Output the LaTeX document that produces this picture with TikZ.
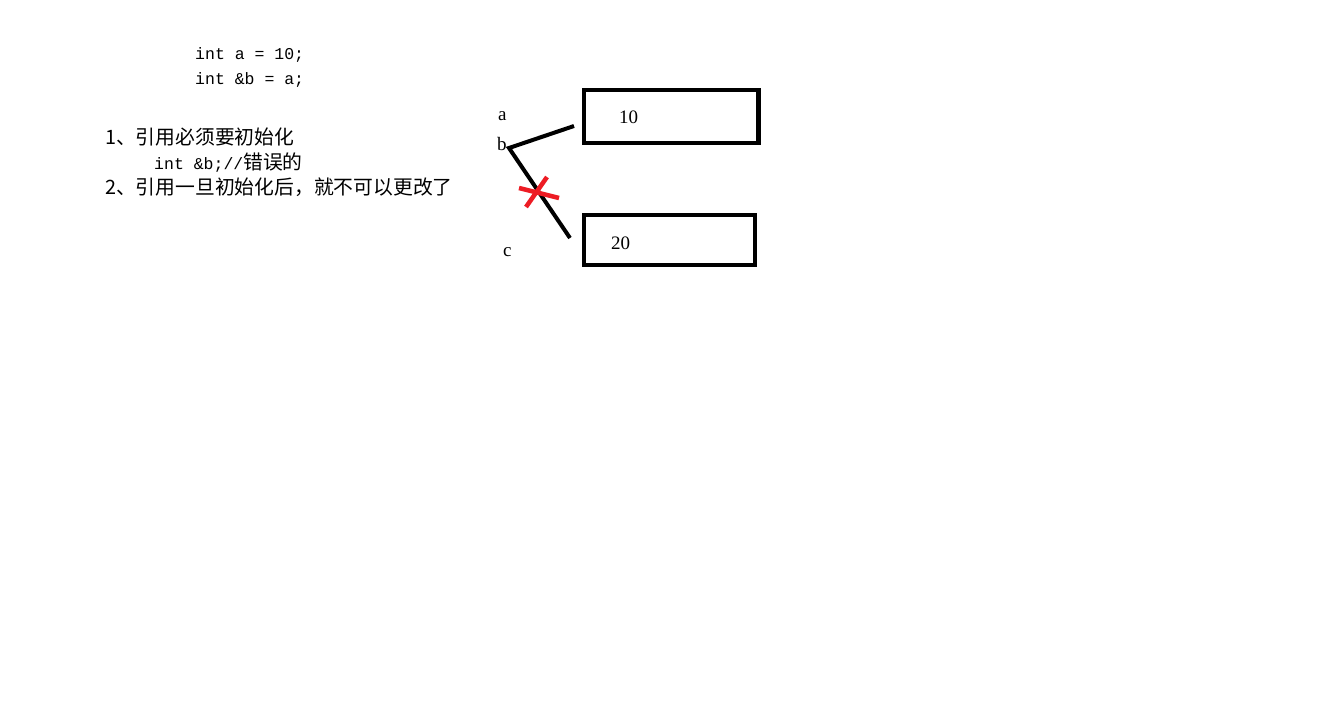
\documentclass[tikz,border=0pt]{standalone}
\usepackage{fontspec}
\setmainfont{Liberation Serif}
\setmonofont{Liberation Mono}
\newfontfamily\cjkfont{Noto Sans CJK SC}
\usepackage{xcolor}
\usepackage{tikz}
\definecolor{crossred}{RGB}{237, 28, 36}

\tikzset{
  codeline/.style={anchor=base west, inner sep=0pt, font=\fontsize{16.5}{18}\selectfont\ttfamily},
  noteline/.style={anchor=base west, inner sep=0pt, font=\fontsize{19.8}{22}\selectfont\cjkfont},
  varlabel/.style={anchor=base west, inner sep=0pt, font=\fontsize{19}{22}\selectfont},
  memcell/.style={draw, line width=4.5pt, inner sep=0pt},
  refline/.style={line width=4pt},
  crossline/.style={line width=4.5pt, crossred},
}

\begin{document}
\begin{tikzpicture}[x=1pt, y=-1pt]
  \useasboundingbox (0,0) rectangle (1335,721);

  % Code
  \node[codeline] (code1) at (195,59) {int a = 10;};
  \node[codeline] (code2) at (195,84) {int \&b = a;};

  % Notes
  \node[noteline] (note1) at (105,144) {1、引用必须要初始化};
  \node[noteline] (note2) at (154,169) {{\ttfamily\fontsize{16.5}{18}\selectfont int \&b;//}错误的};
  \node[noteline] (note3) at (105,194) {2、引用一旦初始化后，就不可以更改了};

  % Memory cells
  \node[memcell, minimum width=174.5pt, minimum height=53pt] (mema) at (671.25,116.5) {};
  \node[memcell, minimum width=171pt, minimum height=50pt] (memc) at (669.5,240) {};
  \node[varlabel] (vala) at (619,123) {10};
  \node[varlabel] (valc) at (611,249) {20};

  % Names
  \node[varlabel] (namea) at (498,120) {a};
  \node[varlabel] (nameb) at (497,150) {b};
  \node[varlabel] (namec) at (503,256) {c};

  % References
  \coordinate (bend) at (509,148);
  \coordinate (tipa) at (574,126);
  \coordinate (tipc) at (570,238);
  \draw[refline] (tipa) -- (bend) -- (tipc);

  % Cross
  \coordinate (x1) at (519,188);
  \coordinate (x2) at (559,198);
  \coordinate (x3) at (547,177);
  \coordinate (x4) at (526,207);
  \draw[crossline] (x1) -- (x2);
  \draw[crossline] (x3) -- (x4);
\end{tikzpicture}
\end{document}
